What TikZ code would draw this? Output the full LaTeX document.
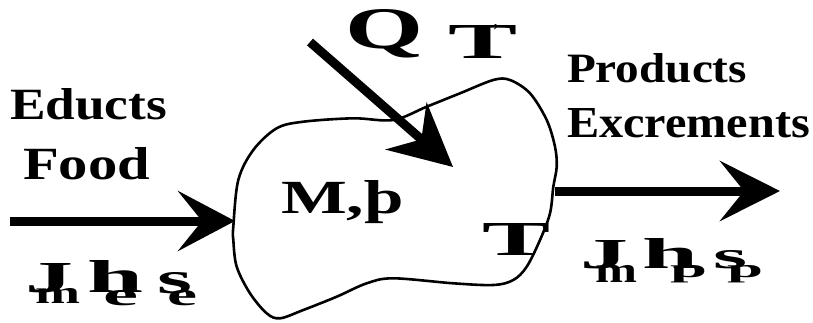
\documentclass[tikz,border=0pt]{standalone}
\usepackage{fontspec}
\setmainfont{Liberation Serif}
\usetikzlibrary{arrows.meta}
\newcommand{\gl}[3]{\resizebox{#1pt}{#2pt}{\bfseries #3}}
\newcommand{\lowgl}[4]{\raisebox{-#1pt}{\gl{#2}{#3}{#4}}}
\tikzset{
  lbl/.style={anchor=base west, inner sep=0pt, outer sep=0pt},
  flowarrow/.style={line width=9pt, -{Stealth[length=#1pt,width=60pt,inset=24pt]}},
  blobline/.style={line width=2.6pt, line join=round}
}
\begin{document}
\begin{tikzpicture}[x=1pt,y=-1pt]
\useasboundingbox[fill=white] (0,0) rectangle (813,322);
% blob (system boundary)
\draw[blobline] plot[smooth cycle, tension=0.55] coordinates {
  (233.3,226.7) (238.3,180) (253.3,150) (276.7,128.3) (303.3,121.7)
  (353.3,118.3) (393.3,120) (426.7,106.7) (460,93.3) (493.3,80)
  (510,80) (530,93.3) (546.7,120) (555,146.7) (556.7,166.7)
  (553.3,186.7) (550,213.3) (540,240) (526.7,266.7) (513.3,280)
  (493.3,285) (453.3,283.3) (393.3,278.3) (366.7,283.3) (336.7,296.7)
  (303.3,310) (280,318.3) (266.7,313.3) (250,293.3) (236.7,266.7)
  (233.3,240)};
% connector end points
\coordinate (inStart) at (10,221);
\coordinate (inEnd) at (235,221);
\coordinate (outStart) at (555,191);
\coordinate (outEnd) at (780,191);
\coordinate (qStart) at (310,42);
\coordinate (qEnd) at (453,167);
\draw[flowarrow=57] (inStart) -- (inEnd);
\draw[flowarrow=60] (outStart) -- (outEnd);
\draw[line width=9pt, -{Stealth[length=62pt,width=62pt,inset=20pt]}] (qStart) -- (qEnd);
% labels
\node[lbl] (educts) at (10,119) {\gl{157}{31}{Educts}};
\node[lbl] (food) at (23,179) {\gl{127}{32}{Food}};
\node[lbl] (Q) at (345,48) {\gl{78}{39}{Q}};
\node[lbl] (Ttop) at (448,58) {\gl{69}{33}{T}\hspace{-24pt}\raisebox{22pt}{\gl{5}{12}{'}}};
\node[lbl] (products) at (567,82) {\gl{180}{29}{Products}};
\node[lbl] (excr) at (567,137) {\gl{243}{29}{Excrements}};
\node[lbl] (Mrho) at (281,213) {\gl{122}{33}{M,þ}};
\node[lbl] (Tin) at (482,255) {\gl{68}{32}{T}};
% inflow symbols J_m h_e s_e
\node[lbl] (inSym) at (25,292) {%
  \gl{48}{29}{J}\hspace{-38pt}\lowgl{11}{45}{15}{m}%
  \hspace{7pt}\gl{56}{32}{h}\hspace{-40pt}\lowgl{13}{35}{15}{e}%
  \hspace{19pt}\lowgl{1}{35}{21}{s}\hspace{-25pt}\lowgl{13}{30}{15}{e}};
% outflow symbols J_m h_p s_p
\node[lbl] (outSym) at (580,268) {%
  \gl{48}{28}{J}\hspace{-33pt}\lowgl{14}{42}{17}{m}%
  \hspace{5pt}\gl{56}{30}{h}\hspace{-28pt}\lowgl{9}{37}{12}{p}%
  \hspace{6pt}\gl{34}{18}{s}\hspace{-20pt}\lowgl{9}{36}{12}{p}};
\end{tikzpicture}
\end{document}
